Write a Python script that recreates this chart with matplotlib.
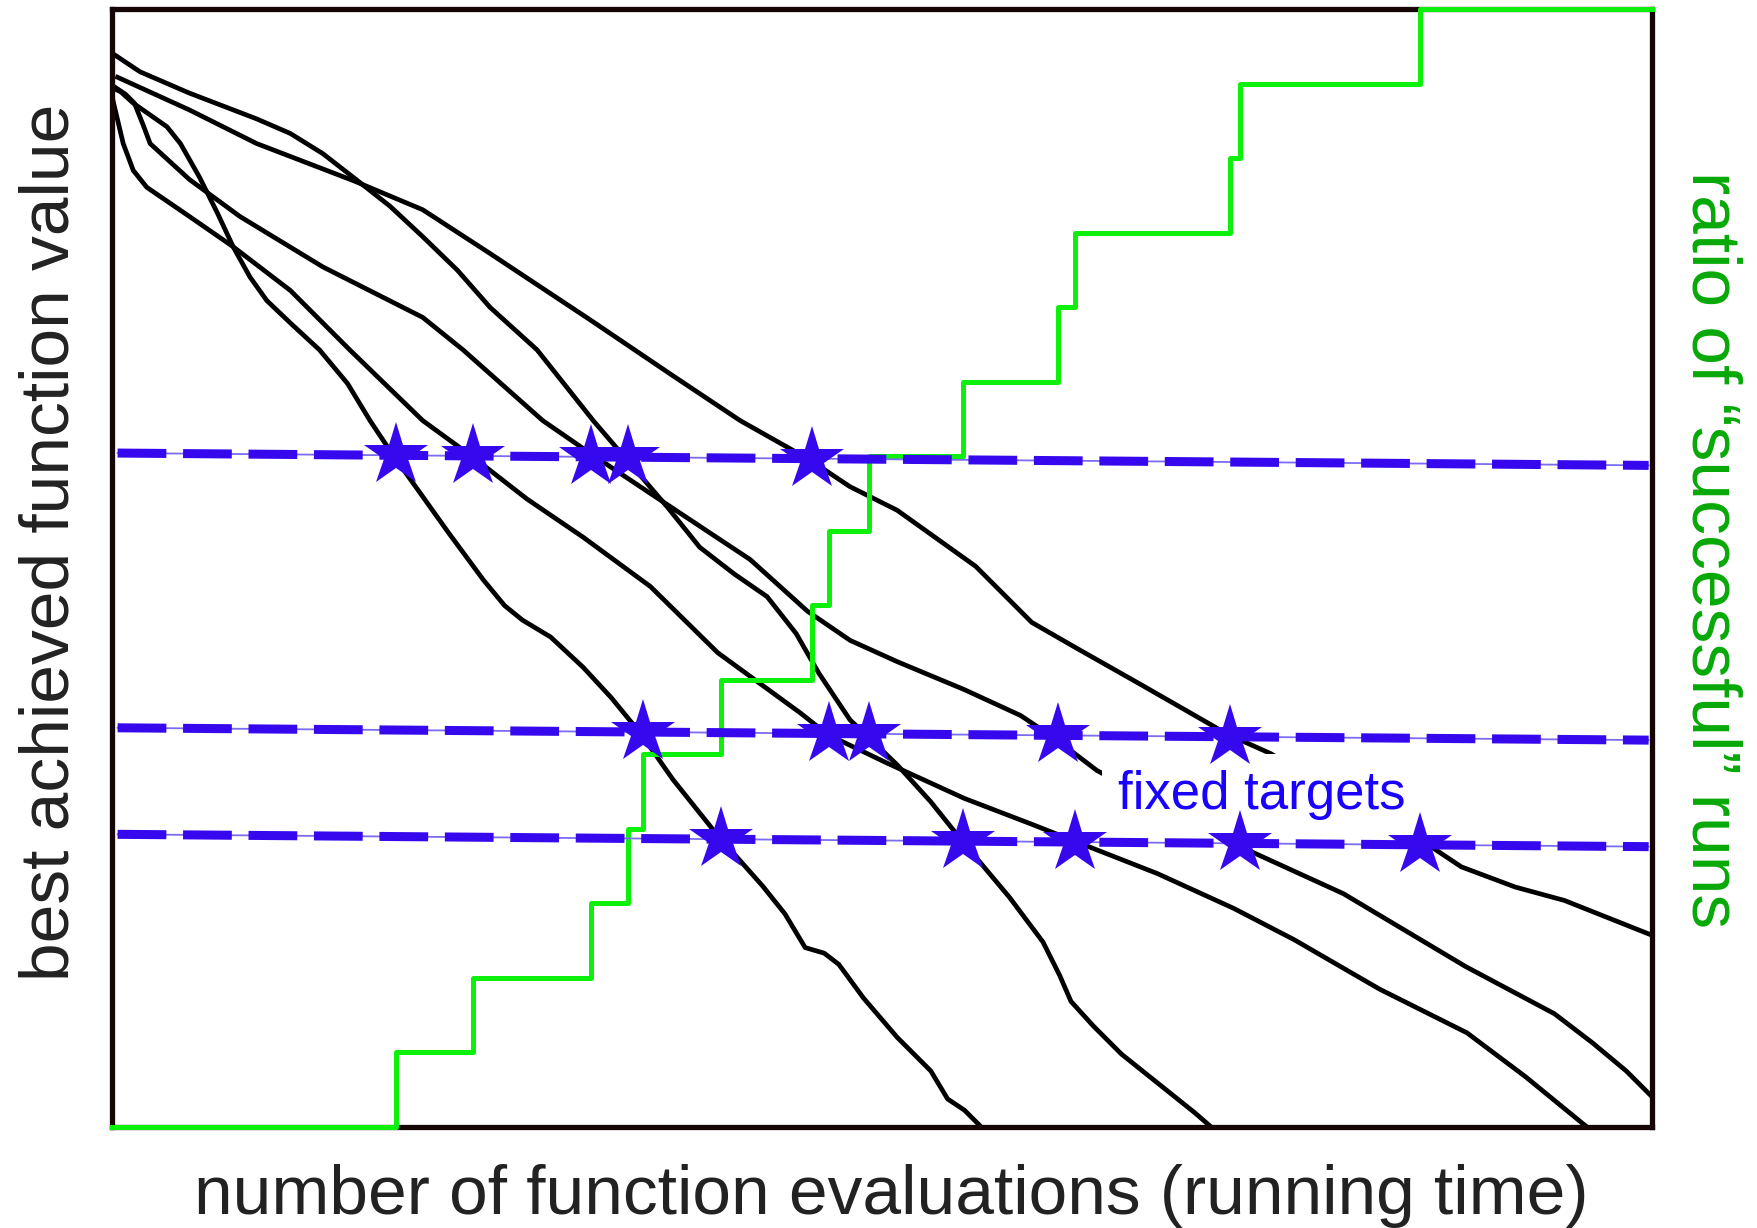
import numpy as np
import matplotlib.pyplot as plt

plt.rcParams['font.family'] = ['Liberation Sans', 'DejaVu Sans']

# runs: number of evaluations vs best f-value (arbitrary units)
run_p_x = [0, 8, 19, 49, 61, 78, 94, 108, 123, 138, 159, 185, 210, 230, 250, 260, 300, 331, 350,
           366, 391, 420, 445, 472, 500, 540, 580, 600, 618, 635, 648, 670, 700, 730, 745, 760, 775]
run_p_f = [927, 923, 913, 892, 877, 847, 815, 785, 758, 737, 717, 693, 663, 630, 600, 586, 530, 488, 465,
           452, 437, 410, 383, 350, 310, 260, 215, 190, 160, 155, 145, 115, 80, 50, 25, 15, 0]

run_q_x = [1, 25, 69, 129, 159, 188, 215, 248, 277, 308, 337, 379, 429, 459, 495, 524, 555, 584, 610,
           630, 658, 673, 700, 730, 758, 800, 830, 845, 855, 875, 900, 950, 965, 980]
run_q_f = [957, 941, 922, 899, 886, 868, 847, 821, 794, 764, 731, 693, 630, 595, 553, 517, 493, 473, 440,
           405, 363, 349, 323, 290, 255, 205, 165, 135, 112, 90, 65, 25, 13, 0]

run_r_x = [0, 10, 19, 31, 69, 108, 159, 212, 277, 325, 370, 420, 480, 540, 614, 638, 690, 760, 820,
           858, 932, 1000, 1054, 1130, 1208, 1260, 1315]
run_r_f = [919, 877, 853, 838, 812, 785, 746, 693, 630, 595, 560, 526, 482, 423, 369, 350, 325, 293, 270,
           255, 226, 195, 167, 123, 84, 45, 0]

run_s_x = [3, 69, 129, 215, 277, 337, 426, 500, 560, 622, 658, 700, 770, 820, 860, 920, 995, 1033,
           1100, 1151, 1176, 1203, 1251, 1295, 1373]
run_s_f = [937, 907, 877, 844, 818, 779, 720, 670, 630, 595, 571, 550, 500, 450, 427, 393, 350, 333,
           293, 262, 250, 232, 214, 202, 171]

run_t_x = [0, 12, 20, 28, 34, 69, 114, 188, 277, 313, 384, 426, 480, 569, 620, 658, 700, 760, 810,
           840, 878, 982, 1006, 1098, 1207, 1286, 1320, 1350, 1378]
run_t_f = [929, 921, 913, 893, 877, 845, 812, 767, 722, 693, 630, 601, 565, 506, 460, 434, 415, 390, 367,
           347, 318, 262, 250, 208, 143, 101, 75, 50, 22]

# fixed targets (drawn slightly tilted, as in the sketch)
target_x = [5, 1370]
target_left = [601, 356, 261]
target_right = [590, 345, 250]

# evaluations at which each run hits each target
hits_target1 = [253, 322, 427, 460, 624]
hits_target2 = [473, 639, 675, 843, 997]
hits_target3 = [543, 759, 859, 1006, 1166]

x_max = 1373
f_max = 997

blue = '#3608ee'
fig = plt.figure(figsize=(17.58, 12.28), dpi=100)
ax = fig.add_axes([112 / 1758, 1 - 1127 / 1228, 1540 / 1758, 1118 / 1228])
ax.set_xlim(0, x_max)
ax.set_ylim(0, f_max)
ax.set_xticks([])
ax.set_yticks([])
for s in ax.spines.values():
    s.set_linewidth(3.8)
    s.set_color('#150505')

for xs, fs in [(run_p_x, run_p_f), (run_q_x, run_q_f), (run_r_x, run_r_f),
               (run_s_x, run_s_f), (run_t_x, run_t_f)]:
    ax.plot(xs, fs, color='black', lw=3.4, zorder=2, solid_capstyle='butt', solid_joinstyle='round')

# ratio of successful runs (ECDF of hitting times)
all_hits = np.sort(np.concatenate([hits_target1, hits_target2, hits_target3]))
n = len(all_hits)
step_x = np.concatenate([[0], all_hits, [x_max]])
step_y = np.concatenate([np.arange(n + 1) / n, [1]])
ax.plot(step_x, step_y, drawstyle='steps-post', color='#0cf00c', lw=3.6,
        transform=ax.get_xaxis_transform(), clip_on=False, zorder=3)

ax.text(897, 284, 'fixed targets', color='#1a00ff', fontsize=38, ha='left', va='baseline',
        bbox=dict(boxstyle='square,pad=0.3', fc='white', ec='none'), zorder=3.5)

for hits, fl, fr in zip([hits_target1, hits_target2, hits_target3], target_left, target_right):
    ax.plot(target_x, [fl, fr], color='#7b6cf2', lw=1.3, zorder=4)
    ax.plot(target_x, [fl, fr], color=blue, lw=6.5, dashes=(5.4, 1.85), zorder=4,
            dash_capstyle='butt')
    ax.plot(hits, np.interp(hits, target_x, [fl, fr]), ls='none', marker='*', ms=48,
            color=blue, mew=0, zorder=5)

fig.text(891 / 1758, 1 - 1214 / 1228, 'number of function evaluations (running time)',
         fontsize=50, color='#222222', ha='center', va='baseline')
fig.text(69 / 1758, 1 - 542 / 1228, 'best achieved function value', fontsize=50, color='#222222',
         rotation=90, rotation_mode='anchor', ha='center', va='baseline')
fig.text(1693 / 1758, 1 - 550 / 1228, 'ratio of \u201csuccessful\u201d runs', fontsize=50,
         color='#07a807', rotation=270, rotation_mode='anchor', ha='center', va='baseline')

fig.savefig('out.png', dpi=100)
